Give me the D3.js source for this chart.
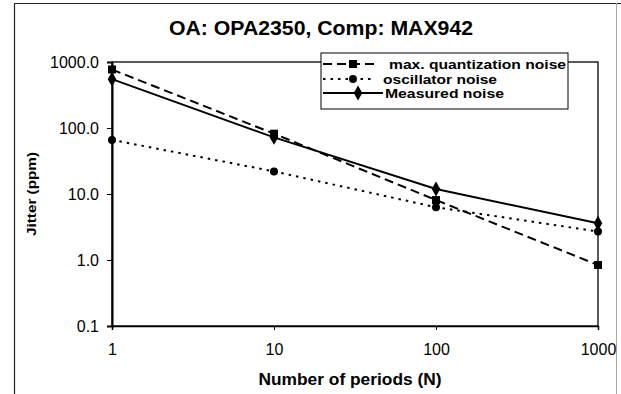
<!DOCTYPE html>
<html><head><meta charset="utf-8">
<script src="https://cdn.jsdelivr.net/npm/d3@7"></script>
<style>body{margin:0;background:#fff}svg{display:block}text{font-family:"Liberation Sans",Arial,sans-serif;fill:#000}</style>
</head><body><svg id="c" width="621" height="394"></svg>
<script>
const periods = [1, 10, 100, 1000];
const quantNoise = [770, 82, 8.1, 0.84];
const oscNoise = [66, 22, 6.3, 2.7];
const measNoise = [550, 72, 11.9, 3.6];
const seriesNames = ["max. quantization noise", "oscillator noise", "Measured noise"];
const yTicks = [0.1, 1, 10, 100, 1000];
const xTicks = [1, 10, 100, 1000];
const title = "OA: OPA2350,  Comp: MAX942";

const svg = d3.select("#c");
const L = 112, R = 598, T = 62, B = 326;
const x = d3.scaleLog().domain([1, 1000]).range([L, R]);
const y = d3.scaleLog().domain([0.1, 1000]).range([B, T]);

// outer frame (scanned, right edge faint)
svg.append("line").attr("x1", 14.5).attr("x2", 14.5).attr("y1", 3).attr("y2", 394)
  .attr("stroke", "#222").attr("stroke-width", 1.2);
svg.append("line").attr("x1", 14).attr("x2", 621).attr("y1", 3.5).attr("y2", 3.5)
  .attr("stroke", "#222").attr("stroke-width", 1.2);
svg.append("line").attr("x1", 616.5).attr("x2", 616.5).attr("y1", 3).attr("y2", 394)
  .attr("stroke", "#aaa").attr("stroke-width", 1);

svg.append("text").attr("x", 321).attr("y", 35).attr("text-anchor", "middle")
  .style("font-weight", "bold").style("font-size", "20px").attr("textLength", 304)
  .attr("lengthAdjust", "spacingAndGlyphs").text(title);

// plot border
svg.append("rect").attr("x", L).attr("y", T).attr("width", R - L).attr("height", B - T)
  .attr("fill", "none").attr("stroke", "#000").attr("stroke-width", 1.3);

const yAxis = d3.axisLeft(y).tickValues(yTicks).tickSize(5).tickPadding(8)
  .tickFormat(d3.format(".1f"));
const gy = svg.append("g").attr("transform", `translate(${L},0)`).call(yAxis);
gy.select(".domain").attr("stroke-width", 2);
gy.selectAll("text").style("font-size", "16px").attr("font-family", null);

const xAxis = d3.axisBottom(x).tickValues(xTicks).tickSize(4).tickPadding(14)
  .tickFormat(d3.format("d"));
const gx = svg.append("g").attr("transform", `translate(0,${B})`).call(xAxis);
gx.select(".domain").attr("stroke-width", 1.5);
gx.selectAll("text").style("font-size", "16px").attr("font-family", null);

svg.append("text").attr("x", 350).attr("y", 385).attr("text-anchor", "middle")
  .style("font-weight", "bold").style("font-size", "16.5px").attr("textLength", 183)
  .attr("lengthAdjust", "spacingAndGlyphs").text("Number of periods (N)");
svg.append("text").attr("transform", `translate(36,${(T + B) / 2}) rotate(-90)`).attr("text-anchor", "middle")
  .style("font-weight", "bold").style("font-size", "12px").attr("textLength", 84)
  .attr("lengthAdjust", "spacingAndGlyphs").text("Jitter (ppm)");

const series = [
  {vals: quantNoise, dash: "9,5", sym: d3.symbolSquare, size: 64},
  {vals: oscNoise, dash: "2.5,5", sym: d3.symbolCircle, size: 50},
  {vals: measNoise, dash: null, sym: d3.symbolDiamond, size: 64}
];
const line = d3.line().x(d => x(d[0])).y(d => y(d[1]));
series.forEach(s => {
  const pts = periods.map((p, i) => [p, s.vals[i]]);
  svg.append("path").datum(pts).attr("d", line).attr("fill", "none")
    .attr("stroke", "#000").attr("stroke-width", 2).attr("stroke-dasharray", s.dash);
  svg.selectAll(null).data(pts).enter().append("path")
    .attr("d", d3.symbol().type(s.sym).size(s.size))
    .attr("transform", d => `translate(${x(d[0])},${y(d[1])})`).attr("fill", "#000");
});

// legend
const lg = svg.append("g");
lg.append("rect").attr("x", 321).attr("y", 53).attr("width", 247).attr("height", 56)
  .attr("fill", "#fff").attr("stroke", "#000").attr("stroke-width", 1);
const rows = [64, 79, 93];
const lineEnds = [379, 372, 383];
const textX = [389, 383, 385];
const textW = [177, 114, 119];
series.forEach((s, i) => {
  lg.append("line").attr("x1", 323).attr("x2", lineEnds[i]).attr("y1", rows[i]).attr("y2", rows[i])
    .attr("stroke", "#000").attr("stroke-width", 2).attr("stroke-dasharray", s.dash);
  lg.append("path").attr("d", d3.symbol().type(s.sym).size(s.size))
    .attr("transform", `translate(${i === 2 ? 358 : 353},${rows[i]})`).attr("fill", "#000");
  lg.append("text").attr("x", textX[i]).attr("y", rows[i] + 4.5).style("font-size", "12.5px")
    .style("font-weight", "bold").attr("textLength", textW[i]).attr("lengthAdjust", "spacingAndGlyphs")
    .text(seriesNames[i]);
});
</script></body></html>
